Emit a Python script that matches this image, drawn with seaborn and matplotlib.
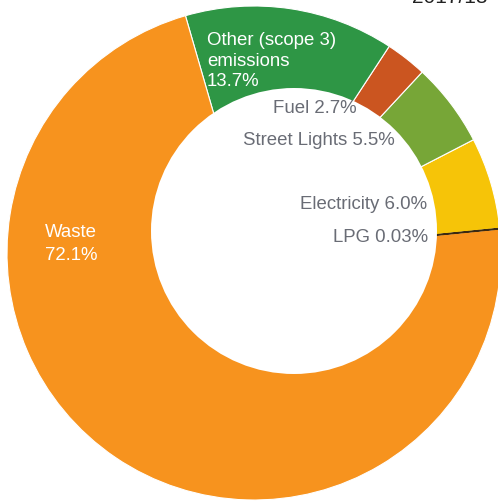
import matplotlib
matplotlib.use("Agg")
import matplotlib.pyplot as plt
from matplotlib.patches import Circle
import seaborn as sns

# ---- data ----
categories = ["LPG", "Electricity", "Street Lights", "Fuel", "Other (scope 3) emissions", "Waste"]
shares = [0.03, 6.0, 5.5, 2.7, 13.7, 72.1]
colors = ["#3b2a12", "#f6c408", "#77a637", "#cb5520", "#2e9645", "#f7931e"]
title_text = "2017/18"

sns.set_theme(style="white")
plt.rcParams["font.family"] = ["Liberation Sans", "DejaVu Sans"]

W, H = 498, 501
fig = plt.figure(figsize=(W / 100, H / 100), dpi=100)
ax = fig.add_axes([0, 0, 1, 1])

def P(x, y):
    return (x, H - y)

cx, cy = P(254, 253)
wedges, _ = ax.pie(shares, colors=colors, startangle=5.6, counterclock=True,
                   center=(cx, cy), radius=247,
                   wedgeprops=dict(edgecolor="white", linewidth=0.8))
wedges[0].set_edgecolor(colors[0])
wedges[0].set_linewidth(1.0)
wedges[0].set_zorder(5)

hx, hy = P(294, 231)
ax.add_patch(Circle((hx, hy), 143, facecolor="white", edgecolor="none", zorder=6))

ax.set_xlim(0, W)
ax.set_ylim(0, H)
ax.set_aspect("auto")
ax.axis("off")

fs = 13.4
white_kw = dict(color="white", fontsize=fs, ha="left", va="center", zorder=10)
ax.text(*P(207, 40), "Other (scope 3)", **white_kw)
ax.text(*P(207, 61), "emissions", **white_kw)
ax.text(*P(207, 81), "13.7%", **white_kw)
ax.text(*P(45, 232), "Waste", **white_kw)
ax.text(*P(45, 256), "72.1%", **white_kw)

gray = "#696c75"
gray_kw = dict(color=gray, fontsize=fs, va="center", zorder=10)
ax.text(*P(357, 108), "Fuel 2.7%", ha="right", **gray_kw)
ax.text(*P(395, 140), "Street Lights 5.5%", ha="right", **gray_kw)
ax.text(*P(427, 204), "Electricity 6.0%", ha="right", **gray_kw)
ax.text(*P(428, 237), "LPG 0.03%", ha="right", **gray_kw)

ax.text(*P(412, 3), title_text, color="#222222", fontsize=15, ha="left",
        va="baseline", zorder=10, clip_on=False)

fig.savefig("out.png", dpi=100)
